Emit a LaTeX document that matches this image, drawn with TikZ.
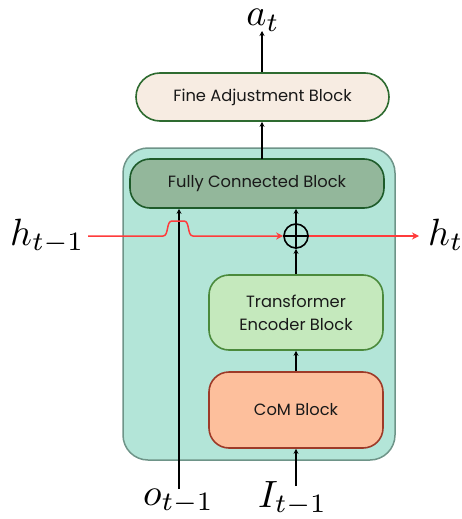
\documentclass[tikz,border=0pt]{standalone}
\usepackage{fontspec}
\setsansfont{Poppins}
\usetikzlibrary{arrows.meta}
\definecolor{outerfill}{HTML}{B3E5D8}
\definecolor{outerdraw}{HTML}{6E9488}
\definecolor{finefill}{HTML}{F7ECE2}
\definecolor{finedraw}{HTML}{2E6B30}
\definecolor{fcfill}{HTML}{93B79B}
\definecolor{fcdraw}{HTML}{1E5B2A}
\definecolor{tefill}{HTML}{C5E9BD}
\definecolor{tedraw}{HTML}{4B8A3C}
\definecolor{comfill}{HTML}{FDBF9C}
\definecolor{comdraw}{HTML}{9E3A28}
\definecolor{hred}{HTML}{FF3B3B}
\newcommand{\biglbl}[1]{\scalebox{3.8}{\fontsize{10}{12}\selectfont$#1$}}
\tikzset{
  blockbox/.style={draw, line width=1.6pt, rectangle, align=center,
    font=\sffamily\fontsize{16.3}{23}\selectfont, text=black!90, inner sep=0pt},
  conn/.style={line width=1.5pt, -{Stealth[length=5pt,width=5pt]}},
  redconn/.style={line width=1.5pt, draw=hred, -{Stealth[length=7pt,width=7pt]}},
  mathlbl/.style={inner sep=0pt}
}
\begin{document}
\begin{tikzpicture}[x=1pt,y=-1pt]
\useasboundingbox (0,0) rectangle (461,519);
\node[draw=outerdraw, fill=outerfill, line width=1.5pt, rounded corners=25pt,
  minimum width=272pt, minimum height=312pt, inner sep=0pt] (outer) at (259,304) {};
\node[blockbox, fill=finefill, draw=finedraw, rounded corners=24pt,
  minimum width=253pt, minimum height=48pt] (fine) at (262.5,97) {Fine Adjustment Block};
\node[blockbox, fill=fcfill, draw=fcdraw, rounded corners=20pt,
  minimum width=254pt, minimum height=49pt] (fc) at (257,183.5) {Fully Connected Block};
\node[blockbox, fill=tefill, draw=tedraw, rounded corners=20pt,
  minimum width=174pt, minimum height=75pt] (te) at (296,312.5) {Transformer\\Encoder Block};
\node[blockbox, fill=comfill, draw=comdraw, rounded corners=20pt,
  minimum width=174pt, minimum height=76pt] (com) at (296,410) {CoM Block};
\node[draw, circle, line width=1.6pt, minimum size=24pt, inner sep=0pt] (plus) at (296,236) {};
\draw[line width=1.6pt] (plus.north) -- (plus.south) (plus.west) -- (plus.east);

\node[mathlbl, anchor=base] (at) at (263,26) {\biglbl{a_t}};
\node[mathlbl, anchor=base west] (htm1) at (10,245) {\biglbl{h_{t-1}}};
\node[mathlbl, anchor=base west] (ht) at (428,245) {\biglbl{h_t}};
\node[mathlbl, anchor=base west] (ot) at (143,505) {\biglbl{o_{t-1}}};
\node[mathlbl, anchor=base west] (It) at (258,507) {\biglbl{I_{t-1}}};

\coordinate (bumpa) at (163,236);
\coordinate (bumpb) at (193,236);
\coordinate (redstart) at (88,236);
\coordinate (redend) at (419,236);
\coordinate (fctop) at (262,159);
\coordinate (atbase) at (262,31);
\coordinate (otop) at (179,489);
\coordinate (Itop) at (296,486);

\draw[conn] (com.north) -- (te.south);
\draw[conn] (te.north) -- (plus.south);
\draw[conn] (plus.north) -- (plus.north |- fc.south);
\draw[conn] (fctop) -- (fctop |- fine.south);
\draw[conn] (fctop |- fine.north) -- (atbase);
\draw[conn] (Itop) -- (com.south);
\draw[conn] (otop) -- (otop |- fc.south);

\draw[redconn] (redstart) -- (bumpa) .. controls (169,236) and (166,221) .. (172,221)
  -- (184,221) .. controls (190,221) and (187,236) .. (bumpb) -- (plus.west);
\draw[redconn] (plus.east) -- (redend);
\end{tikzpicture}
\end{document}
